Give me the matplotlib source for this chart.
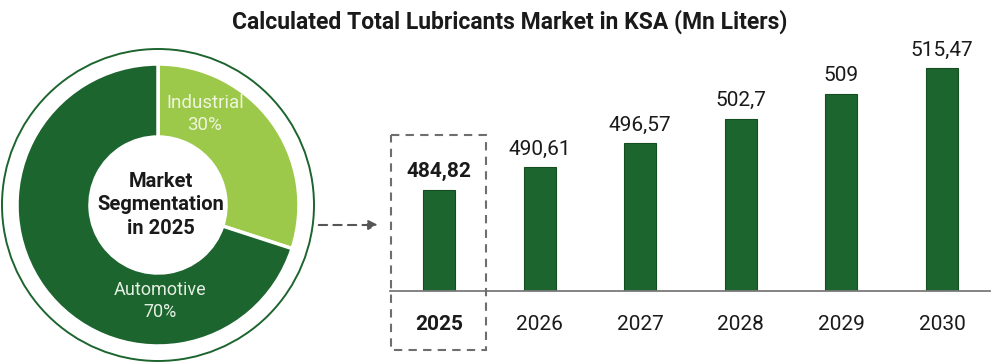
import matplotlib.pyplot as plt
from matplotlib.patches import Circle, Rectangle

plt.rcParams["font.family"] = ["Roboto", "DejaVu Sans"]

years = ["2025", "2026", "2027", "2028", "2029", "2030"]
market = [484.82, 490.61, 496.57, 502.7, 509, 515.47]
value_labels = ["484,82", "490,61", "496,57", "502,7", "509", "515,47"]

segments = ["Industrial", "Automotive"]
shares = [30, 70]

dark_green = "#1d652f"
light_green = "#9dc94a"
gray = "#6e6e6e"
text_dark = "#1a1a1a"

W, H = 995, 364
fig = plt.figure(figsize=(W / 100, H / 100), dpi=100)
fig.patch.set_facecolor("white")


def px_axes(left, top, width, height):
    # axes rectangle given in pixels measured from the top-left corner
    return fig.add_axes([left / W, 1 - (top + height) / H, width / W, height / H])


# ---- donut ----
cx, cy, box = 158, 205, 330
ax_pie = px_axes(cx - box / 2, cy - box / 2, box, box)
wedges, _ = ax_pie.pie(
    shares,
    colors=[light_green, dark_green],
    startangle=90,
    counterclock=False,
    radius=1.41,
    wedgeprops=dict(width=0.73, edgecolor="white", linewidth=2.5),
)
ax_pie.set_xlim(-1.65, 1.65)
ax_pie.set_ylim(-1.65, 1.65)
ax_pie.set_aspect("equal")
ax_pie.axis("off")
ax_pie.add_patch(Circle((0, 0), 1.56, fill=False, edgecolor=dark_green, linewidth=1.4))

ax_pie.text(0.47, 0.91, f"{segments[0]}\n{shares[0]}%", ha="center", va="center",
            fontsize=13.5, color="#eef5dc", linespacing=1.25)
ax_pie.text(0.02, -0.96, f"{segments[1]}\n{shares[1]}%", ha="center", va="center",
            fontsize=13, color="#e4efe2", linespacing=1.25)
ax_pie.text(0.03, 0.0, "Market\nSegmentation\nin 2025", ha="center", va="center",
            fontsize=14.5, fontweight="bold", color=text_dark, linespacing=1.3)

# ---- bars ----
ax = px_axes(390, 40, 600, 251)
x = list(range(len(years)))
bars = ax.bar(x, market, width=0.318, color=dark_green, edgecolor="#154d23", linewidth=0.8)
ax.set_xlim(-0.487, -0.487 + 600 / 100.6)
ax.set_ylim(459.4, 459.4 + 251 / 3.98)

for i, (b, lab) in enumerate(zip(bars, value_labels)):
    ax.annotate(lab, (b.get_x() + b.get_width() / 2, b.get_height()),
                xytext=(0, 6), textcoords="offset points", ha="center", va="bottom",
                fontsize=15, color=text_dark, fontweight="bold" if i == 0 else "normal")

ax.set_xticks(x)
ax.set_xticklabels(years, fontsize=15, color=text_dark)
ax.get_xticklabels()[0].set_fontweight("bold")
ax.tick_params(axis="x", length=0, pad=17)
ax.set_yticks([])
for s in ["top", "left", "right"]:
    ax.spines[s].set_visible(False)
ax.spines["bottom"].set_color("#7a7a7a")
ax.spines["bottom"].set_linewidth(1.3)

# ---- title and callout overlay (pixel coordinates) ----
ov = fig.add_axes([0, 0, 1, 1], facecolor="none", zorder=5)
ov.set_xlim(0, W)
ov.set_ylim(H, 0)
ov.axis("off")

ov.text(510, 22, "Calculated Total Lubricants Market in KSA (Mn Liters)", ha="center",
        va="center", fontsize=16.5, fontweight="bold", color=text_dark)

ov.add_patch(Rectangle((391, 135), 95, 215, fill=False, edgecolor=gray,
                       linestyle=(0, (4, 3)), linewidth=1.5))
ov.annotate("", xy=(381, 225), xytext=(316, 225),
            arrowprops=dict(arrowstyle="-|>", color="#555555", linestyle=(0, (4, 3)),
                            linewidth=1.5, mutation_scale=14))

fig.savefig("out.png", dpi=100)
